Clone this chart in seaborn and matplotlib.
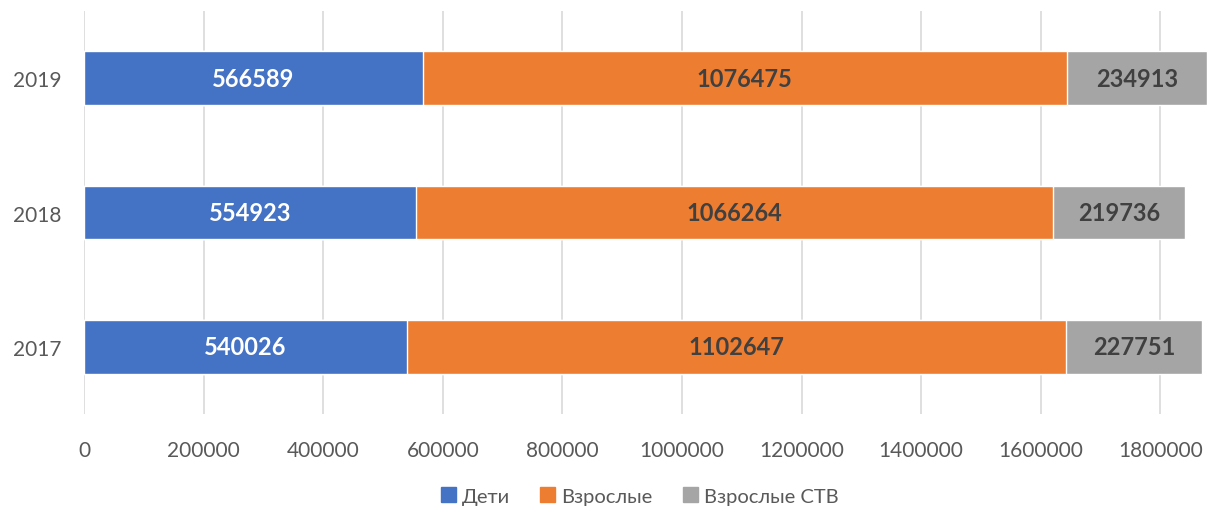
import numpy as np
import pandas as pd
import matplotlib
matplotlib.use("Agg")
import matplotlib.pyplot as plt
from matplotlib.patches import Patch
import seaborn as sns

# chart data
years = ["2019", "2018", "2017"]
children = [566589, 554923, 540026]
adults = [1076475, 1066264, 1102647]
adults_stv = [234913, 219736, 227751]
series_names = ["Дети", "Взрослые", "Взрослые СТВ"]
x_ticks = [0, 200000, 400000, 600000, 800000, 1000000, 1200000, 1400000, 1600000, 1800000]

colors = ["#4472C4", "#ED7D31", "#A5A5A5"]
label_colors = ["white", "#404040", "#404040"]

sns.set_theme(style="white")
plt.rcParams["font.family"] = ["Lato", "DejaVu Sans"]

df = pd.DataFrame({"year": years, "c": children, "a": adults, "s": adults_stv})
df["cum1"] = df["c"]
df["cum2"] = df["c"] + df["a"]
df["cum3"] = df["cum2"] + df["s"]

fig = plt.figure(figsize=(12.07, 5.10), dpi=100)
ax = fig.add_axes([84 / 1207, 1 - 415 / 510, 1 - 84 / 1207, 403 / 510])

# stacked bars drawn as overlapping cumulative totals
for col, color in zip(["cum3", "cum2", "cum1"], colors[::-1]):
    sns.barplot(data=df, x=col, y="year", order=years, color=color,
                width=0.4, saturation=1, orient="h", ax=ax, zorder=3)

# segment labels
for i, row in df.iterrows():
    starts = [0, row["cum1"], row["cum2"]]
    vals = [row["c"], row["a"], row["s"]]
    for start, v, tc in zip(starts, vals, label_colors):
        ax.text(start + v / 2, i, f"{v}", ha="center", va="center",
                color=tc, fontsize=17, fontweight="bold", zorder=5)

ax.set_xlim(0, 1878000)
ax.set_ylim(2.5, -0.5)
ax.set_xticks(x_ticks)
ax.set_xticklabels([str(t) for t in x_ticks])
ax.xaxis.grid(True, color="#D9D9D9", linewidth=1.2, zorder=0)
ax.set_axisbelow(True)
ax.set_xlabel("")
ax.set_ylabel("")
for sp in ax.spines.values():
    sp.set_visible(False)
ax.tick_params(axis="x", labelsize=15, colors="#595959", length=0, pad=19)
ax.tick_params(axis="y", labelsize=15, colors="#595959", length=0, pad=16)

handles = [Patch(facecolor=c, edgecolor=c) for c in colors]
fig.legend(handles, series_names, loc="center", bbox_to_anchor=(0.53, 1 - 497 / 510),
           ncol=3, frameon=False, fontsize=14.5, labelcolor="#595959",
           handlelength=0.75, handleheight=0.75, handletextpad=0.3, columnspacing=1.5)

fig.savefig("out.png", dpi=100)
